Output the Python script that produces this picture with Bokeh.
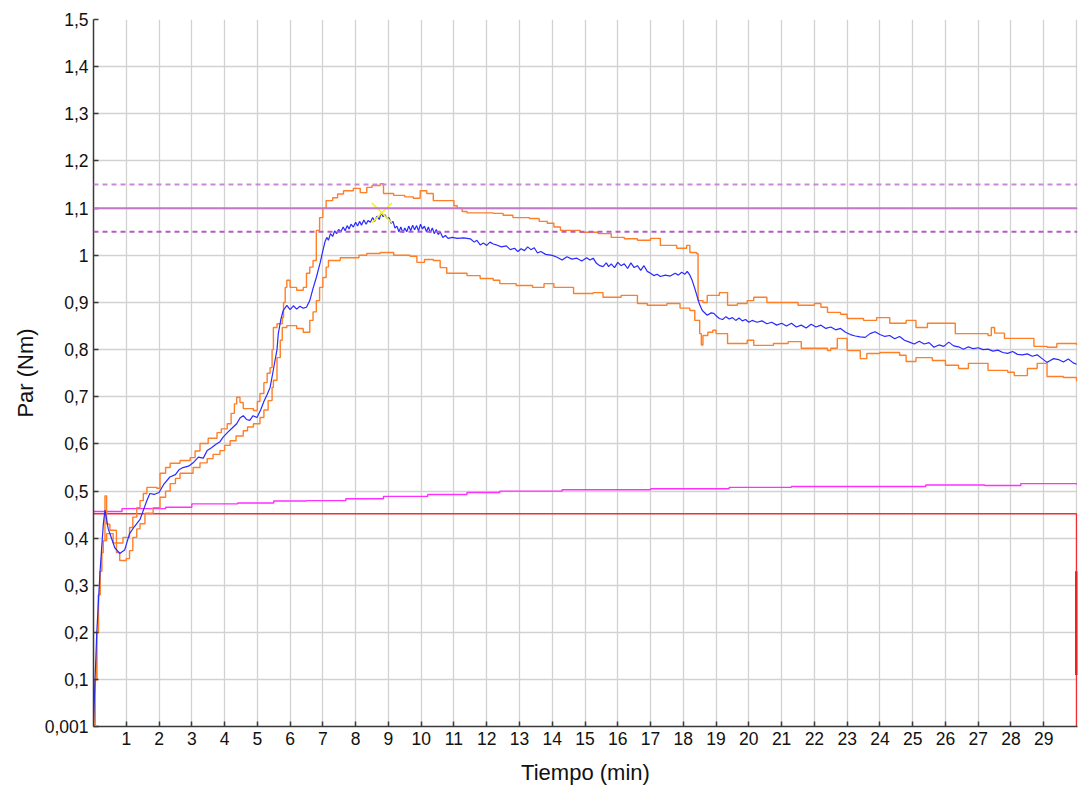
from bokeh.plotting import figure
from bokeh.models import Range1d, FixedTicker, Span
from bokeh.embed import file_html
from bokeh.resources import INLINE

# Torque curve (time in min, torque in Nm): mean trace in blue
mean_curve = [
    (0.0, 0.01), (0.1, 0.2), (0.2, 0.33), (0.3, 0.43), (0.35, 0.46), (0.45, 0.42), (0.55, 0.40),
    (0.65, 0.38), (0.8, 0.368), (0.95, 0.375), (1.1, 0.41), (1.25, 0.425), (1.42, 0.44), (1.55, 0.465),
    (1.63, 0.48), (1.72, 0.495), (1.85, 0.493), (2.0, 0.497), (2.15, 0.515), (2.33, 0.53), (2.5, 0.535),
    (2.62, 0.546), (2.73, 0.55), (2.9, 0.553), (3.04, 0.56), (3.2, 0.572), (3.35, 0.57), (3.47, 0.586),
    (3.6, 0.592), (3.75, 0.60), (3.85, 0.604), (3.95, 0.614), (4.1, 0.625), (4.25, 0.635), (4.37, 0.643),
    (4.47, 0.655), (4.57, 0.66), (4.67, 0.652), (4.77, 0.65), (4.87, 0.66), (4.99, 0.656), (5.1, 0.672),
    (5.2, 0.69), (5.3, 0.705), (5.39, 0.72), (5.47, 0.75), (5.54, 0.777), (5.6, 0.80), (5.64, 0.834),
    (5.72, 0.865), (5.79, 0.883), (5.9, 0.894), (6.0, 0.885), (6.1, 0.893), (6.2, 0.886), (6.3, 0.892),
    (6.4, 0.888), (6.5, 0.89), (6.6, 0.904), (6.7, 0.93), (6.8, 0.953), (6.92, 0.985),
    (7.0, 1.01), (7.07, 1.03), (7.12, 1.038), (7.17, 1.032), (7.23, 1.046), (7.3, 1.04), (7.36, 1.052),
    (7.42, 1.046), (7.48, 1.055), (7.55, 1.05), (7.62, 1.06), (7.68, 1.052), (7.74, 1.063), (7.8, 1.056),
    (7.86, 1.066), (7.93, 1.06), (8.0, 1.07), (8.06, 1.062), (8.12, 1.072), (8.18, 1.064), (8.25, 1.075),
    (8.32, 1.066), (8.38, 1.074), (8.45, 1.07), (8.52, 1.08), (8.58, 1.072), (8.65, 1.083), (8.72, 1.076),
    (8.78, 1.09), (8.84, 1.082), (8.9, 1.086), (8.96, 1.078), (9.02, 1.08), (9.08, 1.068), (9.14, 1.072),
    (9.2, 1.058), (9.26, 1.062), (9.32, 1.05), (9.38, 1.06), (9.44, 1.048), (9.5, 1.058), (9.56, 1.05),
    (9.62, 1.062), (9.68, 1.052), (9.74, 1.064), (9.8, 1.054), (9.86, 1.063), (9.92, 1.052), (9.98, 1.066),
    (10.04, 1.056), (10.1, 1.062), (10.16, 1.05), (10.22, 1.06), (10.28, 1.048), (10.34, 1.058),
    (10.4, 1.046), (10.46, 1.055), (10.52, 1.044), (10.58, 1.05), (10.66, 1.038), (10.74, 1.042),
    (10.82, 1.036), (10.95, 1.038), (11.1, 1.036), (11.3, 1.037), (11.5, 1.035), (11.62, 1.028),
    (11.7, 1.032), (11.8, 1.022), (11.9, 1.026), (12.0, 1.021), (12.1, 1.028), (12.2, 1.024),
    (12.3, 1.022), (12.45, 1.018), (12.6, 1.02), (12.72, 1.012), (12.85, 1.015), (12.95, 1.008),
    (13.05, 1.014), (13.15, 1.01), (13.25, 1.018), (13.35, 1.012), (13.45, 1.016), (13.55, 1.005),
    (13.65, 1.008), (13.8, 1.002), (14.0, 1.0), (14.15, 0.996), (14.3, 0.99), (14.45, 0.997),
    (14.6, 0.992), (14.75, 0.994), (14.9, 0.988), (15.05, 0.995), (15.15, 0.99), (15.25, 0.994),
    (15.35, 0.983), (15.45, 0.978), (15.55, 0.976), (15.65, 0.984), (15.72, 0.976), (15.8, 0.982),
    (15.9, 0.974), (16.0, 0.985), (16.1, 0.978), (16.2, 0.982), (16.3, 0.972), (16.4, 0.984),
    (16.5, 0.974), (16.6, 0.978), (16.7, 0.968), (16.8, 0.978), (16.9, 0.966), (17.0, 0.962),
    (17.1, 0.957), (17.2, 0.96), (17.3, 0.955), (17.45, 0.958), (17.6, 0.956), (17.75, 0.962),
    (17.85, 0.958), (17.95, 0.964), (18.05, 0.96), (18.12, 0.966), (18.2, 0.958), (18.27, 0.947),
    (18.35, 0.93), (18.43, 0.911), (18.5, 0.895), (18.58, 0.883), (18.73, 0.873), (18.85, 0.878),
    (18.93, 0.877), (19.0, 0.872), (19.1, 0.866), (19.2, 0.864), (19.3, 0.87), (19.4, 0.865),
    (19.5, 0.868), (19.6, 0.862), (19.7, 0.867), (19.8, 0.861), (19.9, 0.864), (20.0, 0.858),
    (20.1, 0.862), (20.25, 0.858), (20.4, 0.861), (20.55, 0.855), (20.7, 0.858), (20.85, 0.852),
    (21.0, 0.856), (21.15, 0.85), (21.3, 0.856), (21.45, 0.848), (21.6, 0.852), (21.75, 0.846),
    (21.9, 0.854), (22.05, 0.848), (22.2, 0.852), (22.35, 0.845), (22.5, 0.848), (22.65, 0.842),
    (22.8, 0.845), (22.95, 0.837), (23.1, 0.832), (23.25, 0.829), (23.4, 0.827), (23.55, 0.826),
    (23.7, 0.834), (23.85, 0.838), (24.0, 0.832), (24.15, 0.828), (24.3, 0.83), (24.45, 0.823),
    (24.6, 0.828), (24.75, 0.82), (24.9, 0.816), (25.05, 0.812), (25.2, 0.818), (25.35, 0.812),
    (25.5, 0.815), (25.65, 0.805), (25.8, 0.81), (25.95, 0.807), (26.1, 0.816), (26.25, 0.808),
    (26.4, 0.806), (26.55, 0.801), (26.7, 0.806), (26.85, 0.802), (27.0, 0.804), (27.15, 0.8),
    (27.3, 0.801), (27.45, 0.797), (27.6, 0.799), (27.75, 0.794), (27.9, 0.792), (28.05, 0.796),
    (28.2, 0.79), (28.35, 0.789), (28.5, 0.791), (28.65, 0.786), (28.8, 0.789), (28.95, 0.781),
    (29.1, 0.773), (29.2, 0.777), (29.3, 0.781), (29.45, 0.779), (29.6, 0.774), (29.75, 0.78),
    (29.9, 0.772), (30.0, 0.769),
]

# Upper envelope (orange, stepped)
upper_curve = [
    (0.0, 0.005), (0.05, 0.1), (0.1, 0.2), (0.15, 0.28), (0.2, 0.33), (0.25, 0.37), (0.3, 0.395),
    (0.35, 0.49), (0.4, 0.43), (0.5, 0.417), (0.7, 0.39), (0.9, 0.402), (1.1, 0.423), (1.2, 0.445),
    (1.32, 0.465), (1.42, 0.48), (1.52, 0.495), (1.63, 0.508), (1.93, 0.506), (2.03, 0.538), (2.2, 0.55),
    (2.34, 0.559), (2.64, 0.565), (2.95, 0.571), (3.1, 0.585), (3.25, 0.601), (3.5, 0.612), (3.77, 0.624),
    (3.9, 0.632), (4.08, 0.643), (4.2, 0.665), (4.3, 0.685), (4.37, 0.699), (4.47, 0.688), (4.57, 0.675),
    (4.88, 0.671), (5.0, 0.69), (5.08, 0.707), (5.2, 0.73), (5.3, 0.75), (5.39, 0.762), (5.45, 0.8),
    (5.49, 0.847), (5.6, 0.855), (5.76, 0.868), (5.8, 0.9), (5.85, 0.932), (5.9, 0.947), (6.0, 0.932),
    (6.2, 0.926), (6.4, 0.932), (6.5, 0.962), (6.6, 0.975), (6.7, 0.989), (6.8, 1.053), (6.9, 1.08),
    (7.0, 1.1), (7.1, 1.116), (7.3, 1.122), (7.45, 1.13), (7.63, 1.137), (7.93, 1.142), (8.14, 1.133),
    (8.34, 1.144), (8.5, 1.148), (8.75, 1.152), (8.85, 1.131), (9.16, 1.127), (9.5, 1.124), (9.76, 1.121),
    (9.97, 1.137), (10.17, 1.131), (10.37, 1.116), (10.78, 1.116), (11.0, 1.105), (11.1, 1.1),
    (11.25, 1.093), (11.4, 1.09), (11.8, 1.09), (12.2, 1.089), (12.5, 1.085), (12.8, 1.08), (13.3, 1.078),
    (13.6, 1.072), (13.85, 1.068), (14.05, 1.06), (14.25, 1.053), (14.85, 1.049), (15.4, 1.046),
    (15.8, 1.038), (16.2, 1.035), (16.6, 1.032), (17.0, 1.036), (17.3, 1.021), (17.8, 1.015),
    (18.1, 1.021), (18.2, 1.006), (18.4, 1.004), (18.45, 0.904), (18.6, 0.9), (18.73, 0.915),
    (19.1, 0.921), (19.35, 0.894), (19.65, 0.898), (19.95, 0.904), (20.15, 0.911), (20.55, 0.9),
    (21.2, 0.9), (21.5, 0.894), (22.0, 0.898), (22.2, 0.89), (22.4, 0.879), (22.8, 0.875), (23.0, 0.866),
    (23.5, 0.862), (23.9, 0.868), (24.3, 0.856), (24.8, 0.862), (25.1, 0.847), (25.45, 0.856),
    (25.9, 0.856), (26.3, 0.834), (27.0, 0.834), (27.3, 0.83), (27.4, 0.847), (27.5, 0.835),
    (27.8, 0.824), (28.2, 0.824), (28.7, 0.807), (29.1, 0.805), (29.4, 0.813), (29.9, 0.813), (30.0, 0.81),
]

# Lower envelope (orange, stepped)
lower_curve = [
    (0.0, 0.005), (0.05, 0.1), (0.1, 0.2), (0.15, 0.28), (0.2, 0.33), (0.25, 0.37), (0.3, 0.395),
    (0.4, 0.41), (0.6, 0.39), (0.7, 0.37), (0.8, 0.353), (1.0, 0.357), (1.1, 0.374), (1.2, 0.402),
    (1.32, 0.42), (1.42, 0.431), (1.57, 0.453), (1.82, 0.465), (2.03, 0.487), (2.2, 0.5), (2.34, 0.516),
    (2.5, 0.527), (2.64, 0.538), (3.04, 0.55), (3.25, 0.56), (3.47, 0.569), (3.65, 0.578), (3.86, 0.586),
    (4.0, 0.597), (4.17, 0.607), (4.35, 0.617), (4.57, 0.628), (4.7, 0.636), (4.88, 0.643), (5.08, 0.656),
    (5.2, 0.672), (5.33, 0.692), (5.45, 0.72), (5.49, 0.735), (5.6, 0.783), (5.7, 0.82), (5.76, 0.847),
    (5.9, 0.851), (6.2, 0.845), (6.4, 0.837), (6.6, 0.862), (6.7, 0.88), (6.8, 0.904), (6.9, 0.932),
    (7.0, 0.953), (7.1, 0.975), (7.17, 0.989), (7.53, 0.995), (7.93, 0.995), (8.1, 1.0), (8.34, 1.004),
    (8.75, 1.006), (9.16, 1.0), (9.66, 0.998), (9.87, 0.985), (10.1, 0.991), (10.37, 0.989),
    (10.58, 0.974), (10.78, 0.962), (11.4, 0.957), (11.8, 0.951), (12.2, 0.947), (12.4, 0.94),
    (12.9, 0.936), (13.4, 0.932), (13.75, 0.94), (14.05, 0.932), (14.65, 0.919), (15.25, 0.921),
    (15.55, 0.911), (16.1, 0.915), (16.6, 0.898), (16.9, 0.894), (17.5, 0.898), (17.9, 0.888),
    (18.2, 0.883), (18.35, 0.862), (18.5, 0.834), (18.55, 0.81), (18.6, 0.83), (18.75, 0.837),
    (18.9, 0.841), (19.0, 0.834), (19.35, 0.813), (19.95, 0.82), (20.15, 0.809), (20.75, 0.813),
    (21.2, 0.817), (21.6, 0.803), (22.2, 0.803), (22.4, 0.798), (22.5, 0.803), (22.7, 0.824),
    (23.0, 0.798), (23.4, 0.781), (23.6, 0.792), (24.0, 0.794), (24.6, 0.788), (24.8, 0.775),
    (25.1, 0.783), (25.6, 0.777), (26.0, 0.767), (26.4, 0.76), (26.7, 0.771), (27.1, 0.771),
    (27.3, 0.756), (27.9, 0.752), (28.1, 0.745), (28.5, 0.76), (28.8, 0.771), (29.1, 0.743),
    (29.6, 0.741), (30.0, 0.733),
]

# Slowly drifting secondary trace (magenta)
drift_t = [0.0, 0.87, 2.2, 3.0, 4.4, 5.5, 6.5, 7.7, 8.85, 10.2, 11.4, 12.4, 14.3, 17.0, 19.4, 21.3, 23.3,
           25.4, 27.2, 28.3, 30.0]
drift_nm = [0.457, 0.463, 0.466, 0.473, 0.475, 0.479, 0.48, 0.484, 0.489, 0.493, 0.497, 0.5, 0.503, 0.505,
            0.508, 0.51, 0.51, 0.513, 0.512, 0.516, 0.514]

# Red limit profile
limit_t = [0.0, 30.0, 30.0]
limit_nm = [0.452, 0.452, 0.001]
limit_bold_t = [30.0, 30.0]
limit_bold_nm = [0.33, 0.11]

# Target band
target_nm = 1.10
tolerance_nm = 0.05

# Peak marker
peak_t = [8.8]
peak_nm = [1.09]

y_ticks = [0.001, 0.1, 0.2, 0.3, 0.4, 0.5, 0.6, 0.7, 0.8, 0.9, 1.0, 1.1, 1.2, 1.3, 1.4, 1.5]
y_labels = ["0,001", "0,1", "0,2", "0,3", "0,4", "0,5", "0,6", "0,7", "0,8", "0,9", "1",
            "1,1", "1,2", "1,3", "1,4", "1,5"]
x_ticks = list(range(1, 30))

FONT = "Liberation Sans"


def unzip(points):
    return [pt[0] for pt in points], [pt[1] for pt in points]


mean_t, mean_nm = unzip(mean_curve)
upper_t, upper_nm = unzip(upper_curve)
lower_t, lower_nm = unzip(lower_curve)

p = figure(width=1081, height=794, output_backend="svg", toolbar_location=None,
           x_range=Range1d(0, 30.03), y_range=Range1d(0.001, 1.5),
           min_border_left=93, min_border_right=4, min_border_top=19, min_border_bottom=68)
p.background_fill_color = "white"
p.border_fill_color = "white"
p.outline_line_color = None

# grid
p.xgrid.ticker = FixedTicker(ticks=list(range(1, 31)))
p.ygrid.ticker = FixedTicker(ticks=[round(0.1 * i, 1) for i in range(1, 16)])
for g in (p.xgrid, p.ygrid):
    g.grid_line_color = "#d2d2d2"
    g.grid_line_width = 1.3

# axes
p.xaxis.ticker = FixedTicker(ticks=x_ticks)
p.yaxis.ticker = FixedTicker(ticks=y_ticks)
p.yaxis.major_label_overrides = {t: l for t, l in zip(y_ticks, y_labels)}
p.xaxis.axis_label = "Tiempo (min)"
p.yaxis.axis_label = "Par (Nm)"
for ax in (p.xaxis, p.yaxis):
    ax.axis_line_color = "#3a3a3a"
    ax.axis_line_width = 1.5
    ax.major_tick_in = 5
    ax.major_tick_out = 0
    ax.major_tick_line_color = "#3a3a3a"
    ax.major_tick_line_width = 1.5
    ax.minor_tick_line_color = None
    ax.major_label_text_font = FONT
    ax.major_label_text_font_size = "17.5px"
    ax.major_label_text_color = "#111111"
    ax.axis_label_text_font = FONT
    ax.axis_label_text_font_size = "22px"
    ax.axis_label_text_font_style = "normal"
    ax.axis_label_text_color = "#111111"
p.yaxis.major_label_standoff = 5
p.yaxis.axis_label_standoff = 4
p.xaxis.major_label_standoff = 5
p.xaxis.axis_label_standoff = 12

# target and tolerance lines
p.add_layout(Span(location=target_nm + tolerance_nm, dimension="width", line_color="#c88ad8",
                  line_width=2, line_dash="5 4"))
p.add_layout(Span(location=target_nm, dimension="width", line_color="#c07ac8", line_width=2))
p.add_layout(Span(location=target_nm - tolerance_nm, dimension="width", line_color="#b55cc2",
                  line_width=2, line_dash="5 4"))

# limit profile and drift trace
p.line(limit_t, limit_nm, line_color="#f03030", line_width=1.4)
p.line(limit_bold_t, limit_bold_nm, line_color="#f02020", line_width=3)
p.step(drift_t, drift_nm, mode="after", line_color="#ff30ff", line_width=1.4)

# envelope and mean
p.step(upper_t, upper_nm, mode="after", line_color="#ff7f27", line_width=1.4)
p.step(lower_t, lower_nm, mode="after", line_color="#ff7f27", line_width=1.4)
p.line(mean_t, mean_nm, line_color="#2a2aff", line_width=1.2)

# peak marker
p.scatter(peak_t, peak_nm, marker="x", size=28, line_color="#f6f020", line_width=1.6)

open("out.html", "w").write(file_html(p, INLINE))
